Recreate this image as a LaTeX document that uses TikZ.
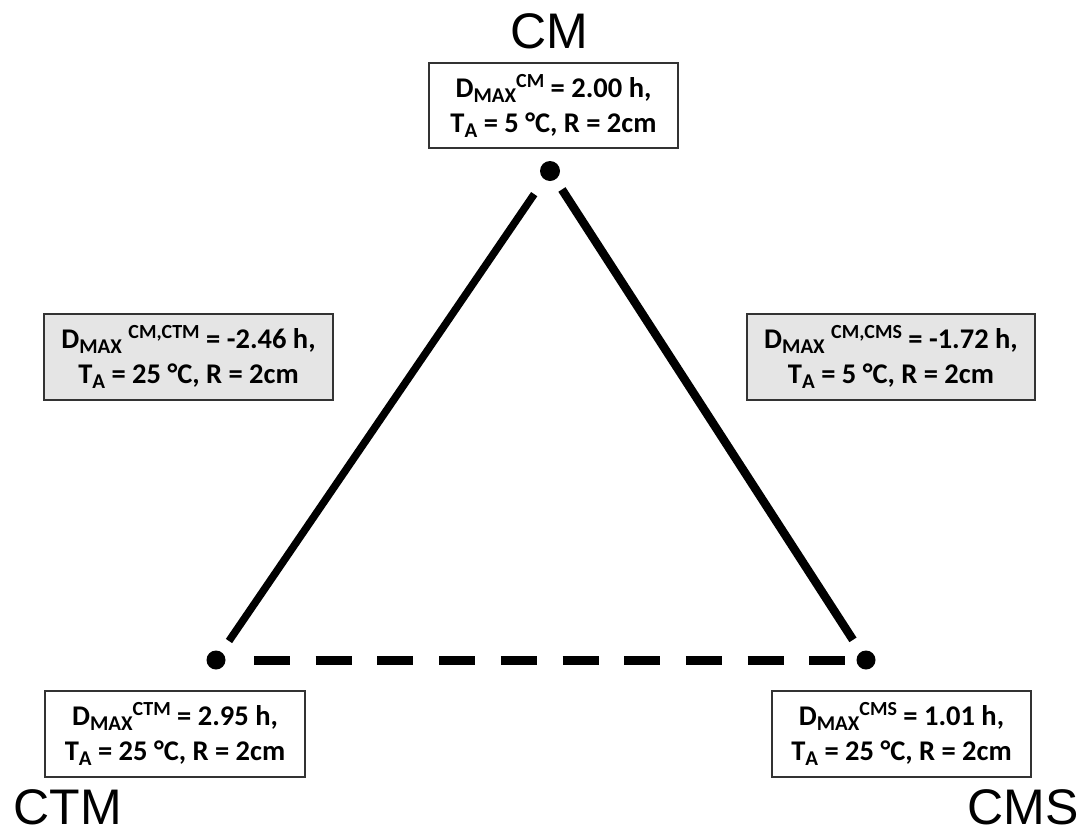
\documentclass[tikz,border=0pt]{standalone}
\usepackage{fontspec}
\setmainfont{Carlito}
\newfontfamily\arialf{Liberation Sans}
\newcommand\mylo[1]{\raisebox{-5pt}{\fontsize{21}{21}\selectfont #1}}
\newcommand\myhi[1]{\raisebox{10pt}{\fontsize{20}{20}\selectfont #1}}
\begin{document}
\begin{tikzpicture}[x=1pt,y=-1pt,
  infobox/.style={draw=black!80, line width=1.3pt, fill=white, inner sep=0pt,
    align=center, font=\fontsize{28.5}{35}\selectfont\bfseries},
  graybox/.style={infobox, fill=gray!20},
  vlabel/.style={font=\arialf\fontsize{50}{50}\selectfont, anchor=base, inner sep=0pt, text depth=0pt},
  vdot/.style={circle, fill=black, inner sep=0pt, minimum size=20pt},
  edge/.style={line width=7.5pt, line cap=butt},
  dashedge/.style={line width=9pt, dash pattern=on 36pt off 25.7pt}]
\useasboundingbox (0,0) rectangle (1088,836);
% vertices
\node[vdot] (cm) at (550,171) {};
\node[vdot, minimum size=19pt] (ctm) at (216,660) {};
\node[vdot, minimum size=19pt] (cms) at (866,660) {};
% edges
\draw[edge, shorten <=28pt, shorten >=23pt] (cm.center) -- (ctm.center);
\draw[edge, line width=8.5pt, shorten <=22pt, shorten >=24pt] (cm.center) -- (cms.center);
\draw[dashedge, shorten <=38pt, shorten >=21pt] (ctm.center) -- (cms.center);
% labels
\node[vlabel] (lcm) at (549,48) {CM};
\node[vlabel] (lctm) at (68,824) {CTM};
\node[vlabel] (lcms) at (1023,824) {CMS};
% boxes
\node[infobox, minimum width=249pt, minimum height=85pt] (bcm) at (553.5,105.5)
  {D\mylo{MAX}\myhi{CM} = 2.00 h,\\T\mylo{A} = 5 °C, R = 2cm};
\node[graybox, minimum width=289pt, minimum height=86pt] (bl) at (188.5,357)
  {D\mylo{MAX} \myhi{CM,CTM} = -2.46 h,\\T\mylo{A} = 25 °C, R = 2cm};
\node[graybox, minimum width=288pt, minimum height=86pt] (br) at (891,357)
  {D\mylo{MAX} \myhi{CM,CMS} = -1.72 h,\\T\mylo{A} = 5 °C, R = 2cm};
\node[infobox, minimum width=260pt, minimum height=86pt] (bctm) at (175,734)
  {D\mylo{MAX}\myhi{CTM} = 2.95 h,\\T\mylo{A} = 25 °C, R = 2cm};
\node[infobox, minimum width=259pt, minimum height=86pt] (bcms) at (901.5,734)
  {D\mylo{MAX}\myhi{CMS} = 1.01 h,\\T\mylo{A} = 25 °C, R = 2cm};
\end{tikzpicture}
\end{document}
